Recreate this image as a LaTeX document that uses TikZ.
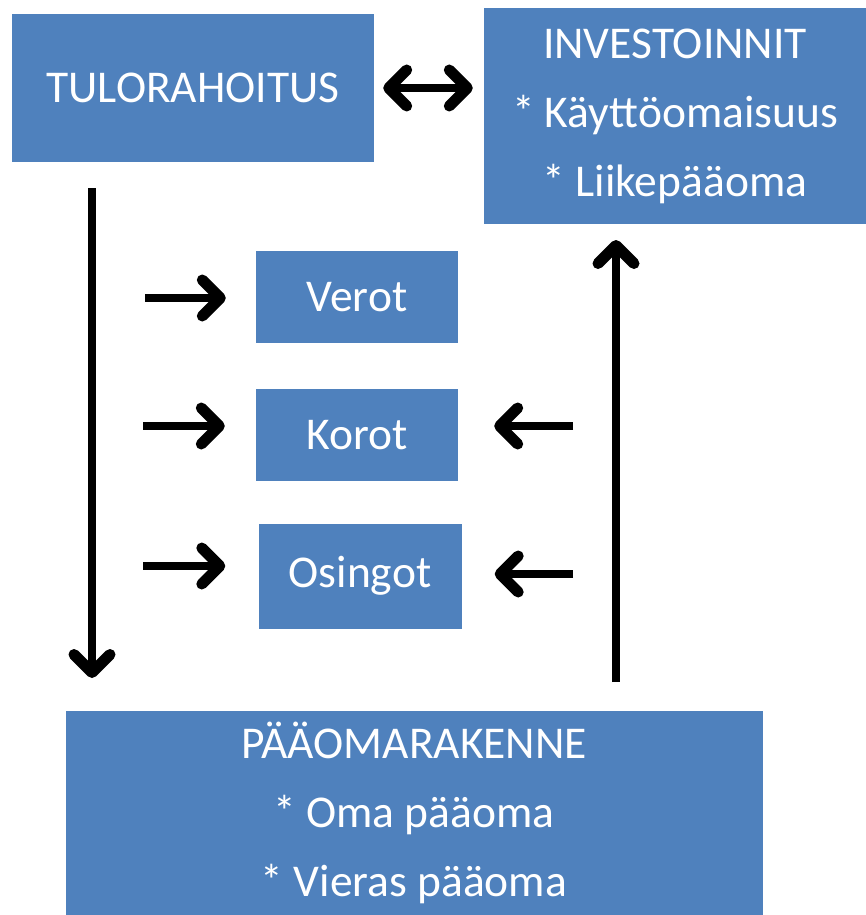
\documentclass[tikz,border=0pt]{standalone}
\usepackage{fontspec}
\setmainfont{Carlito}
\usetikzlibrary{positioning,arrows.meta}

\definecolor{boxblue}{HTML}{4F81BD}

\begin{document}
\begin{tikzpicture}[x=1pt,y=-1pt,
	bluebox/.style={fill=boxblue,text=white,inner sep=0pt,align=center,font=\fontsize{45.5}{69}\selectfont},
	arr/.style={line width=8.5pt,-{Straight Barb[round,length=18pt,width=36pt,line width=11pt]}},
	darr/.style={line width=8.5pt,{Straight Barb[round,length=18pt,width=36pt,line width=11pt]}-{Straight Barb[round,length=18pt,width=36pt,line width=11pt]}}]
		\useasboundingbox (0,0) rectangle (866,915);

		\node[bluebox,minimum width=362pt,minimum height=148pt]		(tulo)		at (193,88)		{TULORAHOITUS};
		\node[bluebox,minimum width=382pt,minimum height=216pt]		(inv)		at (675,116)	{INVESTOINNIT\\* Käyttöomaisuus\\* Liikepääoma};
		\node[bluebox,minimum width=202pt,minimum height=92pt]		(verot)		at (357,297)	{Verot};
		\node[bluebox,minimum width=202pt,minimum height=92pt]		(korot)		at (357,435)	{Korot};
		\node[bluebox,minimum width=203pt,minimum height=105pt]		(osingot)	at (360,576)	{Osingot};
		\node[bluebox,minimum width=697pt,minimum height=205pt]		(paaoma)	at (414,813)	{PÄÄOMARAKENNE\\* Oma pääoma\\* Vieras pääoma};

		\coordinate (d1) at (92,188);
		\coordinate (d2) at (92,678);
		\coordinate (u1) at (616,682);
		\coordinate (u2) at (616,240);
		\coordinate (v1) at (145,298);
		\coordinate (k1) at (143,426);
		\coordinate (o1) at (143,566);
		\coordinate (k2) at (573,426);
		\coordinate (o2) at (573,574);

		\draw[darr] ([xshift=9pt]tulo.east) -- ([xshift=-11pt]inv.west |- tulo.east);
		\draw[arr] (d1) -- (d2);
		\draw[arr] (u1) -- (u2);
		\draw[arr] (v1) -- ([xshift=-30pt]verot.west |- v1);
		\draw[arr] (k1) -- ([xshift=-31pt]korot.west |- k1);
		\draw[arr] (o1) -- ([xshift=-33pt]osingot.west |- o1);
		\draw[arr] (k2) -- ([xshift=36pt]korot.east |- k2);
		\draw[arr] (o2) -- ([xshift=33pt]osingot.east |- o2);
	\end{tikzpicture}
\end{document}
